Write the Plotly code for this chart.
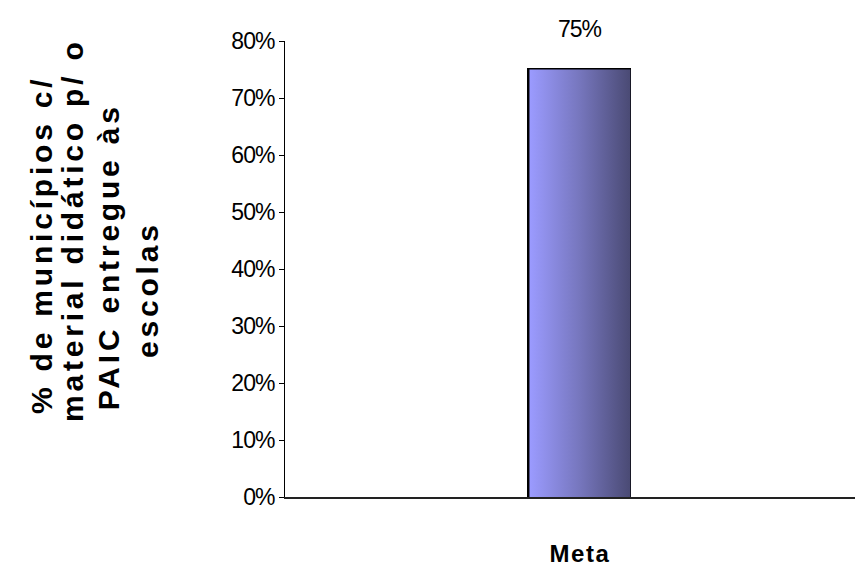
import plotly.graph_objects as go

categories = ["Meta"]
values = [0.75]
bar_width = 0.171
y_title_lines = ["% de municípios c/", "material didático p/ o", "PAIC entregue às", "escolas"]
y_ticks = [0, 0.1, 0.2, 0.3, 0.4, 0.5, 0.6, 0.7, 0.8]

# placement of each title line (paper coords), style only
title_x = [-0.420, -0.368, -0.306, -0.237]
title_y = [0.553, 0.586, 0.526, 0.454]

NARROW = "Liberation Sans Narrow, Arial Narrow, Liberation Sans, Arial, sans-serif"
BOLD = "Liberation Sans, Arial, sans-serif"

def spaced(text, px):
    return f'<span style="letter-spacing:{px}px">{text}</span>'

xs = list(range(len(categories)))
fig = go.Figure()

# gradient body of each bar
for xi, v in zip(xs, values):
    x0, x1 = xi - bar_width / 2, xi + bar_width / 2
    fig.add_trace(go.Scatter(
        x=[x0, x1, x1, x0, x0], y=[0, 0, v, v, 0],
        mode="lines", line=dict(width=0), fill="toself",
        fillgradient=dict(type="horizontal",
                          colorscale=[[0, "#9b9bff"], [0.5, "#7676bd"], [1, "#4a4a74"]]),
        hoverinfo="skip", showlegend=False))

# bar outline
fig.add_trace(go.Bar(
    x=xs, y=values, width=bar_width,
    marker=dict(color="rgba(0,0,0,0)", line=dict(color="black", width=3)),
    showlegend=False))

for xi, v in zip(xs, values):
    fig.add_annotation(x=xi, y=v, text=spaced(f"{v:.0%}", -1), showarrow=False,
                       yanchor="bottom", yshift=26,
                       font=dict(family=NARROW, size=23, color="black"))

for line, tx, ty in zip(y_title_lines, title_x, title_y):
    fig.add_annotation(xref="paper", yref="paper", x=tx, y=ty,
                       text=spaced(line, 3.8), textangle=-90,
                       showarrow=False, xanchor="center", yanchor="middle",
                       font=dict(family=BOLD, size=30, color="black", weight="bold"))

# the page body has an 8px default margin; size the figure so it fits the window
fig.update_layout(
    width=855, height=559,
    margin=dict(l=277, r=0, t=33, b=70),
    plot_bgcolor="white", paper_bgcolor="white",
    bargap=0,
)
fig.update_xaxes(range=[-0.5, 0.48], tickvals=xs,
                 ticktext=[spaced(c, 1.5) for c in categories],
                 showline=True, linecolor="#222222", linewidth=1.5,
                 showgrid=False, zeroline=False, ticks="",
                 ticklabelstandoff=34, automargin=False,
                 tickfont=dict(family=NARROW, size=24, color="black", weight="bold"))
fig.update_yaxes(range=[0, 0.8], tickvals=y_ticks,
                 ticktext=[spaced(f"{t:.0%}", -1) for t in y_ticks],
                 showline=True, linecolor="black", linewidth=1,
                 showgrid=False, zeroline=False, automargin=False,
                 ticks="outside", ticklen=5, tickcolor="black",
                 tickfont=dict(family=NARROW, size=23, color="black"))

fig.write_html("out.html")
